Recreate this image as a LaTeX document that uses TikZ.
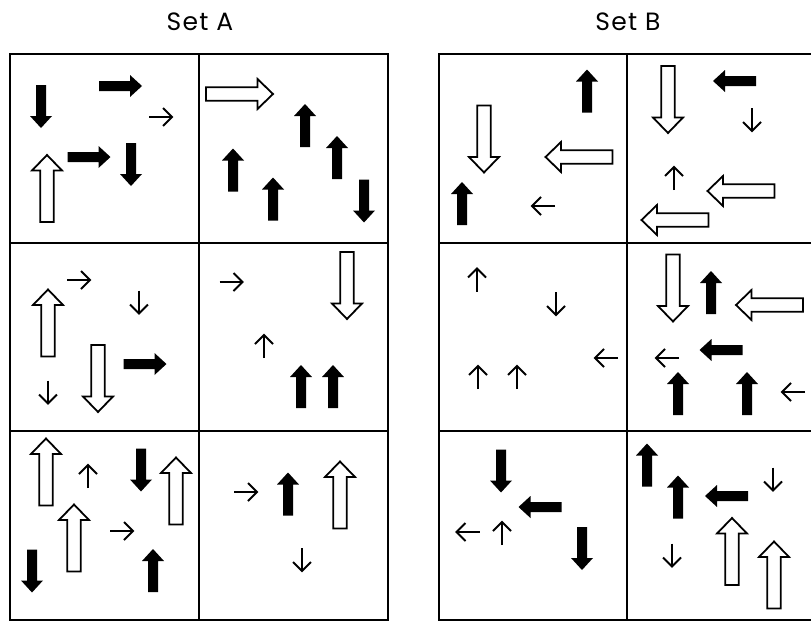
\documentclass[tikz,border=0pt]{standalone}
\usepackage{fontspec}
\setmainfont{Poppins}
\newfontfamily\titlefont[LetterSpace=5]{Poppins}
\begin{document}
\begin{tikzpicture}[x=1pt,y=-1pt,
  gridline/.style={line width=2pt},
  title/.style={font=\titlefont\fontsize{25}{28}\selectfont, inner sep=0pt},
  blk/.pic={\fill[black] (-21.5,-5) -- (9.5,-5) -- (9.5,-11) -- (21.5,0) -- (9.5,11) -- (9.5,5) -- (-21.5,5) -- cycle;},
  wht/.pic={\draw[line width=1.8pt, fill=white, line join=miter] (-33.5,-6.8) -- (18,-6.8) -- (18,-15) -- (33.5,0) -- (18,15) -- (18,6.8) -- (-33.5,6.8) -- cycle;},
  thn/.pic={\draw[line width=2pt] (-11.5,0) -- (11,0); \draw[line width=2pt, line join=miter] (2.5,-9) -- (11.5,0) -- (2.5,9);}
]
\newcommand\arBU[2]{\pic[rotate=90] at (#1,#2) {blk};}
\newcommand\arBD[2]{\pic[rotate=-90] at (#1,#2) {blk};}
\newcommand\arBL[2]{\pic[rotate=180] at (#1,#2) {blk};}
\newcommand\arBR[2]{\pic at (#1,#2) {blk};}
\newcommand\arWU[2]{\pic[rotate=90] at (#1,#2) {wht};}
\newcommand\arWD[2]{\pic[rotate=-90] at (#1,#2) {wht};}
\newcommand\arWL[2]{\pic[rotate=180] at (#1,#2) {wht};}
\newcommand\arWR[2]{\pic at (#1,#2) {wht};}
\newcommand\arTU[2]{\pic[rotate=90] at (#1,#2) {thn};}
\newcommand\arTD[2]{\pic[rotate=-90] at (#1,#2) {thn};}
\newcommand\arTL[2]{\pic[rotate=180] at (#1,#2) {thn};}
\newcommand\arTR[2]{\pic at (#1,#2) {thn};}
\useasboundingbox (0,0) rectangle (811,621);
\fill[white] (0,0) rectangle (811,621);
% titles
\node[title] (ta) at (200,22) {Set A};
\node[title] (tb) at (628,22) {Set B};
% grids
\draw[gridline] (10,54) rectangle (388,620);
\draw[gridline] (199,54) -- (199,620);
\draw[gridline] (10,243) -- (388,243);
\draw[gridline] (10,431) -- (388,431);
\draw[gridline] (439,54) rectangle (816,620);
\draw[gridline] (627,54) -- (627,620);
\draw[gridline] (439,243) -- (816,243);
\draw[gridline] (439,431) -- (816,431);
% A(1,1)
\arBD{41}{106.5}
\arBR{120.5}{86}
\arTR{160.5}{117}
\arBR{89}{157}
\arBD{131}{164.5}
\arWU{47}{188.5}
% A(1,2)
\arWR{239.5}{94}
\arBU{305}{125.5}
\arBU{337}{157.5}
\arBU{233}{170}
\arBU{273}{199}
\arBD{364}{201}
% A(2,1)
\arTR{78.5}{280}
\arTD{139}{302}
\arWU{48}{323}
\arWD{98}{378.5}
\arBR{145}{364}
\arTD{48}{392}
% A(2,2)
\arTR{231}{282}
\arWD{347}{285.5}
\arTU{264}{346.5}
\arBU{301}{386.5}
\arBU{333}{386.5}
% A(3,1)
\arWU{46}{472}
\arTU{88}{476.5}
\arBD{141}{470}
\arWU{176}{491}
\arWU{74}{538}
\arTR{121.5}{531}
\arBD{32}{571}
\arBU{153}{570.5}
% A(3,2)
\arTR{245.5}{492}
\arBU{288}{494}
\arWU{340}{495}
\arTD{302}{559.5}
% B(1,1)
\arBU{587}{91}
\arWD{484}{139}
\arWL{579}{157}
\arBU{462}{203.5}
\arTL{543.5}{206}
% B(1,2)
\arWD{668}{99.5}
\arBL{734.5}{81}
\arTD{752}{119.5}
\arTU{674}{178.5}
\arWL{741}{191}
\arWL{675}{220}
% B(2,1)
\arTU{477}{280}
\arTD{556}{303.5}
\arTL{606.5}{358}
\arTU{478}{377.5}
\arTU{517}{377.5}
% B(2,2)
\arWD{673}{288}
\arBU{711}{292.5}
\arWL{769.5}{305}
\arBL{721}{350}
\arTL{667.5}{358}
\arBU{678}{393.5}
\arBU{747}{393.5}
\arTL{793.5}{392}
% B(3,1)
\arBD{501}{471}
\arBL{540}{507}
\arTL{468}{532}
\arTU{502}{533.5}
\arBD{582}{548.5}
% B(3,2)
\arBU{647}{465}
\arBU{678}{497}
\arBL{726.5}{496}
\arTD{773}{479}
\arTD{672}{555}
\arWU{732}{551.5}
\arWU{774}{575}
\end{tikzpicture}
\end{document}
